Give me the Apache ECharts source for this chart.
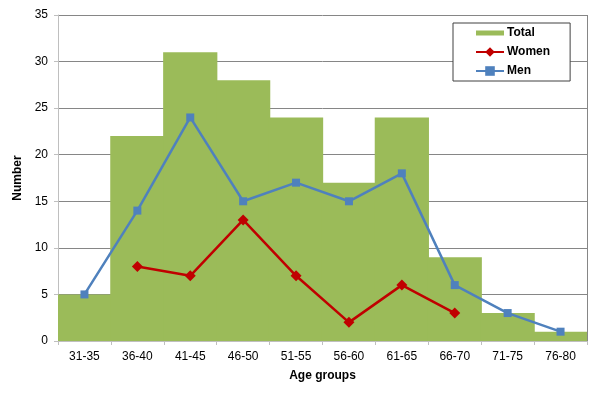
<!DOCTYPE html>
<html><head><meta charset="utf-8">
<script src="https://cdn.jsdelivr.net/npm/echarts@6/dist/echarts.min.js"></script>
<style>html,body{margin:0;padding:0;background:#fff}#c{width:602px;height:396px}</style>
</head><body><div id="c"></div>
<script>
var categories = ['31-35','36-40','41-45','46-50','51-55','56-60','61-65','66-70','71-75','76-80'];
var total = [5, 22, 31, 28, 24, 17, 24, 9, 3, 1];
var women = [null, 8, 7, 13, 7, 2, 6, 3, null, null];
var men = [5, 14, 24, 15, 17, 15, 18, 6, 3, 1];
var yTicks = {min: 0, max: 35, interval: 5};

var chart = echarts.init(document.getElementById('c'), null, {renderer: 'canvas'});
var font = 'Arial, "Liberation Sans", sans-serif';
chart.setOption({
  animation: false,
  backgroundColor: '#fff',
  grid: {left: 58, right: 15, top: 15, bottom: 55},
  legend: {
    orient: 'vertical', left: 453, top: 23,
    padding: [4, 20, 4, 22],
    itemGap: 7, itemWidth: 28, itemHeight: 12,
    borderColor: '#404040', borderWidth: 1, backgroundColor: '#fff',
    textStyle: {fontFamily: font, fontSize: 12, fontWeight: 'bold', color: '#000', padding: [0,0,0,-2]},
    data: [
      {name: 'Total', icon: 'path://M0,0h28v5h-28z'},
      {name: 'Women'},
      {name: 'Men'}
    ]
  },
  xAxis: {
    type: 'category', data: categories, boundaryGap: true,
    name: 'Age groups', nameLocation: 'middle', nameGap: 29,
    nameTextStyle: {fontFamily: font, fontSize: 12, fontWeight: 'bold', color: '#000'},
    axisLine: {lineStyle: {color: '#bfbfbf', width: 1}},
    axisTick: {show: true, length: 4, alignWithLabel: false, lineStyle: {color: '#bfbfbf'}},
    axisLabel: {fontFamily: font, fontSize: 12, color: '#000', margin: 10},
    splitLine: {show: false}
  },
  yAxis: {
    type: 'value', min: yTicks.min, max: yTicks.max, interval: yTicks.interval,
    name: 'Number', nameLocation: 'middle', nameGap: 26, nameRotate: 90,
    nameTextStyle: {fontFamily: font, fontSize: 12, fontWeight: 'bold', color: '#000'},
    axisLine: {show: true, lineStyle: {color: '#bfbfbf', width: 1}},
    axisTick: {show: true, length: 4, inside: false, lineStyle: {color: '#bfbfbf'}},
    axisLabel: {fontFamily: font, fontSize: 12, color: '#000', margin: 10},
    splitLine: {show: true, lineStyle: {color: '#868686', width: 1}}
  },
  series: [
    {
      name: 'Total', type: 'bar', data: total, barWidth: '102.5%',
      itemStyle: {color: '#9BBB59'}, z: 1
    },
    {
      name: 'Women', type: 'line', data: women, connectNulls: false,
      symbol: 'diamond', symbolSize: 11, color: '#C00000',
      lineStyle: {color: '#C00000', width: 2.5}, itemStyle: {color: '#C00000'}, z: 3
    },
    {
      name: 'Men', type: 'line', data: men,
      symbol: 'rect', symbolSize: 8, color: '#4F81BD',
      lineStyle: {color: '#4F81BD', width: 2.5}, itemStyle: {color: '#4F81BD'}, z: 3
    }
  ],
  graphic: [{
    type: 'line', shape: {x1: 587.5, y1: 15, x2: 587.5, y2: 341},
    style: {stroke: '#868686', lineWidth: 1}, z: 100
  }]
});
</script></body></html>
